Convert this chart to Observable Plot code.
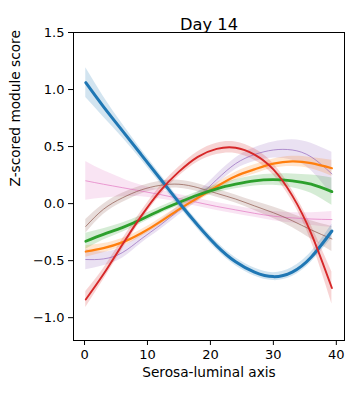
<!DOCTYPE html>
<html>
<head>
<meta charset="utf-8">
<script src="https://cdn.jsdelivr.net/npm/d3@7"></script>
<script src="https://cdn.jsdelivr.net/npm/@observablehq/plot@0.6"></script>
<style>
  html, body { margin: 0; padding: 0; background: #fff; }
  svg { font-family: "DejaVu Sans", sans-serif; }
</style>
</head>
<body>
<div id="chart"></div>
<script>
// Position along the serosa-luminal axis where each module score is sampled
const axisPos = [0.2, 3, 6, 9, 12, 15, 18, 21, 24, 27, 30, 33, 36, 39.3];

// Fitted module scores (z-scored) and confidence half-widths per module
const blueScore   = [1.06, 0.85, 0.64, 0.43, 0.22, 0.01, -0.19, -0.37, -0.51, -0.60, -0.64, -0.60, -0.47, -0.24];
const blueCI      = [0.13, 0.09, 0.06, 0.045, 0.04, 0.035, 0.035, 0.035, 0.035, 0.035, 0.035, 0.04, 0.045, 0.06];

const orangeScore = [-0.42, -0.39, -0.34, -0.26, -0.16, -0.05, 0.05, 0.15, 0.24, 0.30, 0.35, 0.37, 0.355, 0.31];
const orangeCI    = [0.05, 0.04, 0.035, 0.03, 0.03, 0.03, 0.03, 0.03, 0.035, 0.04, 0.04, 0.045, 0.05, 0.07];

const greenScore  = [-0.33, -0.27, -0.21, -0.14, -0.06, 0.01, 0.075, 0.13, 0.17, 0.20, 0.21, 0.20, 0.17, 0.105];
const greenCI     = [0.07, 0.05, 0.04, 0.035, 0.03, 0.03, 0.03, 0.035, 0.04, 0.045, 0.05, 0.06, 0.08, 0.12];

const redScore    = [-0.84, -0.62, -0.36, -0.11, 0.11, 0.28, 0.41, 0.48, 0.49, 0.43, 0.30, 0.07, -0.26, -0.74];
const redCI       = [0.07, 0.05, 0.045, 0.04, 0.04, 0.04, 0.045, 0.05, 0.05, 0.05, 0.05, 0.05, 0.07, 0.14];

const purpleScore = [-0.49, -0.485, -0.43, -0.31, -0.19, -0.06, 0.06, 0.21, 0.35, 0.43, 0.47, 0.47, 0.41, 0.26];
const purpleCI    = [0.09, 0.06, 0.05, 0.04, 0.04, 0.04, 0.04, 0.045, 0.05, 0.06, 0.07, 0.09, 0.12, 0.19];

const brownScore  = [-0.20, -0.05, 0.05, 0.12, 0.16, 0.17, 0.14, 0.09, 0.04, -0.02, -0.08, -0.15, -0.23, -0.31];
const brownCI     = [0.06, 0.045, 0.04, 0.035, 0.035, 0.035, 0.035, 0.035, 0.035, 0.04, 0.05, 0.06, 0.08, 0.11];

const pinkScore   = [0.20, 0.17, 0.14, 0.11, 0.08, 0.045, 0.01, -0.025, -0.055, -0.085, -0.11, -0.125, -0.135, -0.14];
const pinkCI      = [0.17, 0.12, 0.08, 0.05, 0.04, 0.035, 0.035, 0.035, 0.035, 0.035, 0.04, 0.045, 0.055, 0.07];

// Axis ticks
const xTicks = [0, 10, 20, 30, 40];
const yTicks = [-1.0, -0.5, 0.0, 0.5, 1.0, 1.5];

// Drawing order and line weights (thin modules first, bold ones on top)
const modules = [
  {score: pinkScore,   ci: pinkCI,   color: "#e377c2", width: 0.7},
  {score: brownScore,  ci: brownCI,  color: "#8c564b", width: 0.7},
  {score: purpleScore, ci: purpleCI, color: "#9467bd", width: 0.7},
  {score: orangeScore, ci: orangeCI, color: "#ff7f0e", width: 2.2},
  {score: greenScore,  ci: greenCI,  color: "#2ca02c", width: 2.8},
  {score: blueScore,   ci: blueCI,   color: "#1f77b4", width: 3.0},
  {score: redScore,    ci: redCI,    color: "#d62728", width: 1.9}
];

const rows = m => axisPos.map((x, i) => ({x, y: m.score[i], lo: m.score[i] - m.ci[i], hi: m.score[i] + m.ci[i]}));

const marks = [];
for (const m of modules) {
  marks.push(Plot.areaY(rows(m), {x: "x", y1: "lo", y2: "hi", fill: m.color, fillOpacity: 0.2, curve: "natural"}));
}
for (const m of modules) {
  marks.push(Plot.line(rows(m), {x: "x", y: "y", stroke: m.color, strokeWidth: m.width, curve: "natural"}));
}

const chart = Plot.plot({
  width: 354,
  height: 393,
  marginLeft: 73,
  marginRight: 10,
  marginTop: 32,
  marginBottom: 53,
  style: {fontFamily: "DejaVu Sans, sans-serif", fontSize: "13px", color: "#000", background: "#fff"},
  x: {domain: [-1.75, 41.3]},
  y: {domain: [-1.2, 1.5]},
  marks: [
    ...marks,
    Plot.frame({stroke: "#000", strokeWidth: 1}),
    Plot.axisX({ticks: xTicks, tickSize: 5, tickPadding: 4, label: null, fontSize: 13, stroke: "#000"}),
    Plot.axisY({ticks: yTicks, tickSize: 5, tickPadding: 4, tickFormat: d3.format(".1f"), label: null, fontSize: 13, stroke: "#000"}),
    Plot.text(["Serosa-luminal axis"], {frameAnchor: "bottom", dy: 36, fontSize: 13.7, fill: "#000"}),
    Plot.text(["Z-scored module score"], {frameAnchor: "left", dx: -58, rotate: -90, fontSize: 13.7, fill: "#000"}),
    Plot.text(["Day 14"], {frameAnchor: "top", dy: -14, fontSize: 16.3, fill: "#000"})
  ]
});
document.getElementById("chart").appendChild(chart);
</script>
</body>
</html>
